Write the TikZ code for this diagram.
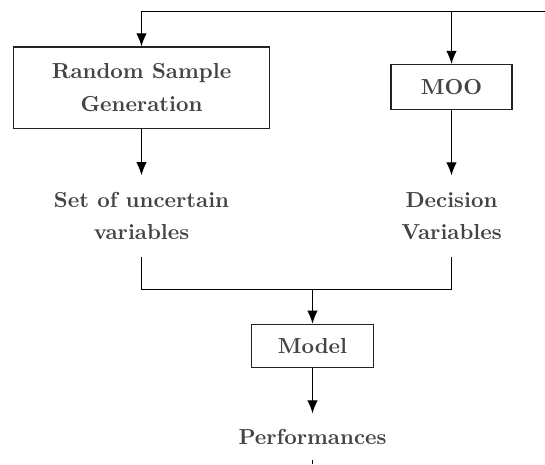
\documentclass[tikz,border=0pt]{standalone}
\usetikzlibrary{arrows.meta,calc,positioning}
\definecolor{ink}{HTML}{444444}
\definecolor{rule}{HTML}{222222}
\tikzset{
  >={Latex[length=6pt,width=4.8pt]},
  blk/.style={draw=rule, line width=.5pt, text=ink,
              font=\bfseries\fontsize{10}{15}\selectfont,
              align=center, inner sep=2pt},
  txt/.style={text=ink, font=\bfseries\fontsize{10}{15}\selectfont,
              align=center, inner sep=7.5pt},
  flow/.style={draw=black, line width=.55pt}
}
\begin{document}
\begin{tikzpicture}[x=0.46pt,y=0.46pt]
\useasboundingbox (0,0) rectangle (545,464);

% Blocks and intermediate results.
\node[blk, minimum width=117.8pt, minimum height=37.3pt] (rsg) at (141.5,376.5)
  {Random Sample\\Generation};
\node[blk, minimum width=55.7pt, minimum height=20.7pt] (moo) at (451.5,377) {MOO};
\node[txt] (unc) at (141.5,248) {Set of uncertain\\variables};
\node[txt] (dec) at (451.5,248) {Decision\\Variables};
\node[blk, minimum width=56pt, minimum height=19.8pt] (model) at (312.5,118.2) {Model};
\node[txt, inner sep=7pt] (perf) at (312.5,27.3) {Performances};

% Loose ends at the picture border and the merge point.
\coordinate (fb) at (545,452.5);
\coordinate (out) at (312.5,0);
\coordinate (join) at (312.5,174.8);

% Feedback line along the top.
\draw[flow, ->] (fb) -| (rsg.north);
\draw[flow, ->] (moo.north |- fb) -- (moo.north);

% Generation and optimisation outputs.
\draw[flow, ->] (rsg.south) -- (unc.north);
\draw[flow, ->] (moo.south) -- (dec.north);

% Both sets go into the model.
\draw[flow] (unc.south) |- (join) -| (dec.south);
\draw[flow, ->] (join) -- (model.north);
\draw[flow, ->] (model.south) -- (perf.north);
\draw[flow] (perf.south) -- (out);

\end{tikzpicture}
\end{document}
